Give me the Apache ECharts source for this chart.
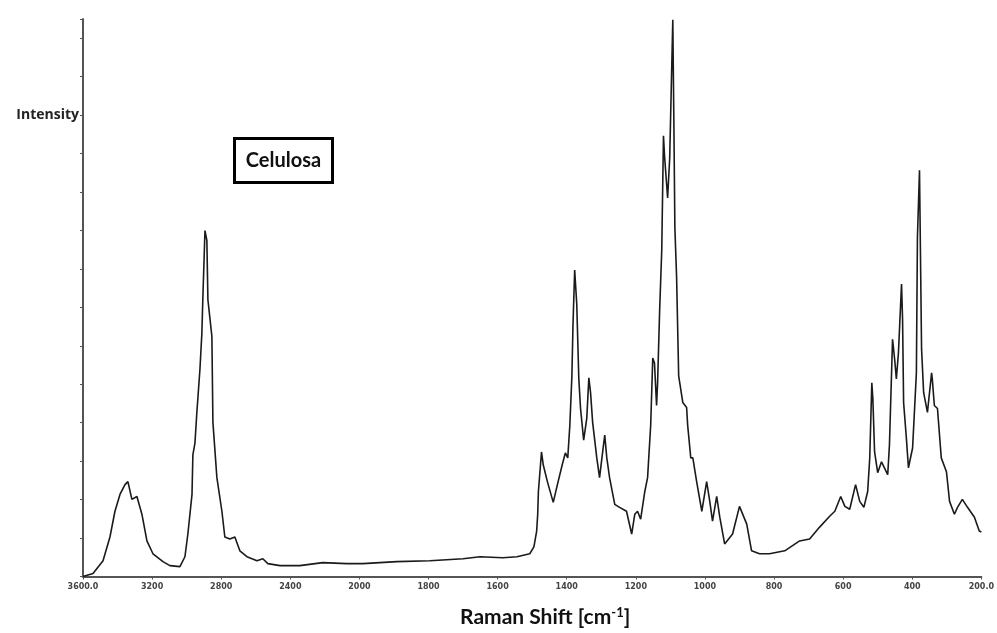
<!DOCTYPE html>
<html>
<head>
<meta charset="utf-8">
<title>Celulosa – Raman spectrum</title>
<script src="https://cdn.jsdelivr.net/npm/echarts@6/dist/echarts.min.js"></script>
<style>
  html, body { margin: 0; padding: 0; background: #ffffff; }
  #chart { width: 997px; height: 633px; }
</style>
</head>
<body>
<div id="chart"></div>
<script>
// Raman shift axis ticks (cm-1). The instrument plot is piecewise linear:
// 400 cm-1 per division above 2000, 200 cm-1 per division below.
const tickWavenumbers = [3600, 3200, 2800, 2400, 2000, 1800, 1600, 1400, 1200, 1000, 800, 600, 400, 200];

// Spectrum: Raman shift (cm-1)
const ramanShift = [
  3600, 3542, 3484, 3444, 3415, 3386, 3357, 3340, 3317, 3288, 3259, 3230, 3195, 3137, 3097, 3039,
  3010, 2993, 2969, 2964, 2952, 2941, 2923, 2912, 2906, 2894, 2883, 2877, 2854, 2848, 2825, 2796,
  2779, 2750, 2721, 2692, 2651, 2593, 2559, 2530, 2460, 2345, 2212, 2073, 1990, 1892, 1796, 1700,
  1651, 1585, 1544, 1507, 1495, 1487, 1484, 1482, 1473, 1468, 1456, 1439, 1427, 1413, 1404, 1397,
  1391, 1385, 1382, 1377, 1371, 1365, 1360, 1351, 1342, 1336, 1331, 1325, 1313, 1305, 1296, 1290,
  1284, 1276, 1261, 1247, 1227, 1212, 1203, 1195, 1186, 1174, 1166, 1157, 1151, 1146, 1140, 1137,
  1131, 1125, 1120, 1117, 1108, 1102, 1093, 1090, 1087, 1082, 1076, 1064, 1053, 1050, 1041, 1035,
  1024, 1009, 995, 986, 978, 966, 957, 943, 920, 900, 879, 865, 842, 813, 769, 726,
  697, 668, 639, 624, 607, 595, 581, 564, 552, 540, 529, 523, 517, 514, 509, 500,
  489, 471, 466, 457, 451, 446, 440, 431, 428, 425, 417, 411, 399, 388, 385, 379,
  373, 367, 356, 344, 342, 336, 327, 316, 301, 292, 278, 269, 255, 240, 220, 206,
  200
];

// Spectrum: intensity (counts)
const intensity = [
  0, 77, 411, 1028, 1697, 2134, 2391, 2468, 2005, 2082, 1620, 925, 591, 386, 283, 257,
  514, 1105, 2134, 3162, 3470, 4267, 5398, 6324, 7275, 8997, 8740, 7198, 6247, 4010, 2571, 1697,
  1028, 977, 1028, 668, 514, 411, 463, 334, 283, 283, 360, 334, 334, 386, 411, 463,
  514, 488, 514, 591, 771, 1183, 1620, 2211, 3239, 2905, 2468, 1928, 2391, 2905, 3213, 3085,
  3933, 5219, 6504, 7969, 7095, 5141, 4370, 3548, 4113, 5167, 4781, 4010, 3085, 2571, 3239, 3676,
  3085, 2571, 1877, 1799, 1697, 1105, 1620, 1697, 1491, 2211, 2571, 3933, 5681, 5553, 4447, 5039,
  6941, 8483, 11465, 10951, 9846, 10874, 14480, 11902, 9075, 7789, 5219, 4524, 4396, 3933, 3085, 3085,
  2468, 1697, 2468, 1954, 1440, 2082, 1542, 848, 1105, 1825, 1362, 668, 591, 591, 668, 925,
  977, 1285, 1568, 1697, 2082, 1825, 1748, 2391, 1954, 1799, 2211, 3085, 5039, 4627, 3239, 2699,
  2982, 2648, 3419, 6170, 5656, 5141, 5810, 7609, 6684, 4524, 3599, 2828, 3342, 5296, 8817, 10566,
  5913, 4781, 4267, 5296, 5141, 4447, 4370, 3085, 2725, 1954, 1620, 1799, 2005, 1799, 1542, 1183,
  1157
];

// Map a Raman shift onto the division index of the piecewise axis.
function axisPosition(w) {
  for (let i = 0; i < tickWavenumbers.length - 1; i++) {
    const hi = tickWavenumbers[i], lo = tickWavenumbers[i + 1];
    if (w <= hi && w >= lo) return i + (hi - w) / (hi - lo);
  }
  return w > tickWavenumbers[0] ? 0 : tickWavenumbers.length - 1;
}

function tickLabel(idx) {
  const w = tickWavenumbers[idx];
  if (w === undefined) return '';
  return (idx === 0 || idx === tickWavenumbers.length - 1) ? w.toFixed(1) : String(w);
}

const spectrum = ramanShift.map((w, i) => [axisPosition(w), intensity[i]]);

const chart = echarts.init(document.getElementById('chart'), null, { renderer: 'canvas' });

chart.setOption({
  backgroundColor: '#ffffff',
  animation: false,
  grid: { left: 83, right: 15, top: 19, bottom: 50, containLabel: false },
  xAxis: {
    type: 'value',
    min: 0,
    max: tickWavenumbers.length - 1,
    interval: 1,
    name: 'Raman Shift [cm{sup|-1}]',
    nameLocation: 'middle',
    nameGap: 30,
    nameTextStyle: {
      fontFamily: 'Lato',
      fontWeight: 'bold',
      fontSize: 21,
      color: '#111',
      padding: [0, 0, 0, 26],
      rich: {
        sup: { fontFamily: 'Lato', fontWeight: 'bold', fontSize: 13, color: '#111', verticalAlign: 'top', padding: [0, 0, 9, 0] }
      }
    },
    axisLine: { show: true, lineStyle: { color: '#555', width: 2 } },
    axisTick: { show: true, length: 3, lineStyle: { color: '#555', width: 1 } },
    axisLabel: {
      formatter: v => tickLabel(Math.round(v)),
      fontFamily: 'DejaVu Sans',
      fontWeight: 'bold',
      fontSize: 8,
      color: '#444',
      margin: 6
    },
    splitLine: { show: false }
  },
  yAxis: {
    type: 'value',
    min: 0,
    max: 14500,
    interval: 1000,
    axisLine: { show: true, lineStyle: { color: '#555', width: 2 } },
    axisTick: { show: true, length: 3, lineStyle: { color: '#555', width: 1 } },
    axisLabel: {
      formatter: v => (v === 12000 ? 'Intensity' : ''),
      fontFamily: 'Open Sans',
      fontWeight: 'bold',
      fontSize: 14,
      color: '#222',
      margin: 4
    },
    splitLine: { show: false }
  },
  series: [{
    type: 'line',
    data: spectrum,
    showSymbol: false,
    smooth: false,
    lineStyle: { color: '#1a1a1a', width: 1.6 },
    silent: true
  }],
  graphic: [{
    type: 'group',
    left: 233,
    top: 137,
    children: [
      { type: 'rect', shape: { x: 0, y: 0, width: 98, height: 44 },
        style: { fill: '#fff', stroke: '#000', lineWidth: 3 } },
      { type: 'text', x: 49, y: 22,
        style: { text: 'Celulosa', fontFamily: 'Lato', fontWeight: 'bold', fontSize: 20,
                 fill: '#111', align: 'center', verticalAlign: 'middle' } }
    ]
  }]
});
</script>
</body>
</html>
